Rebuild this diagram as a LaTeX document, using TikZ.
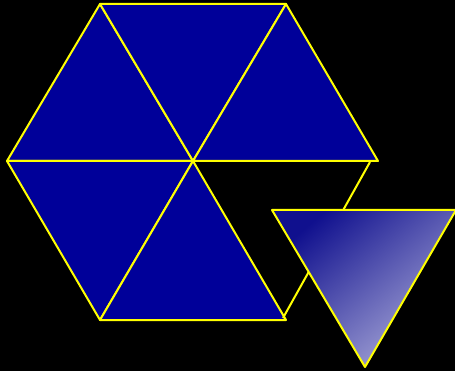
\documentclass[tikz,border=0pt]{standalone}
\usepackage{xcolor}
\definecolor{hxblue}{HTML}{000099}
\definecolor{hxyellow}{HTML}{FFFF00}
\definecolor{hxdark}{HTML}{10108E}
\definecolor{hxlight}{HTML}{A8A8D8}
\usepackage{tikz}
\usetikzlibrary{calc}

\begin{document}
\begin{tikzpicture}[
  x=1pt, y=-1pt,
  tri/.style={fill=hxblue, draw=hxyellow, line width=2pt, line join=round},
  edge/.style={draw=hxyellow, line width=2pt},
  moved/.style={draw=hxyellow, line width=2pt, line join=round,
                top color=hxdark, bottom color=hxlight, shading angle=40}
]
\fill[black] (0,0) rectangle (455,371);
\useasboundingbox (0,0) rectangle (455,371);

% hexagon corners
\coordinate (c)  at (193,161);
\coordinate (l)  at (7,161);
\coordinate (tl) at (100,4);
\coordinate (tr) at (286,4);
\coordinate (r)  at (378,161);
\coordinate (br) at (286,320);
\coordinate (bl) at (100,320);

% five triangles, the lower right one is gone
\draw[tri] (c) -- (l) -- (tl) -- cycle;
\draw[tri] (c) -- (tl) -- (tr) -- cycle;
\draw[tri] (c) -- (tr) -- (r) -- cycle;
\draw[tri] (c) -- (l) -- (bl) -- cycle;
\draw[tri] (c) -- (bl) -- (br) -- cycle;

% outer side of the empty place
\coordinate (gapt) at (370,162);
\coordinate (gapb) at (283,318);
\draw[edge] (gapt) -- (gapb);

% the triangle that moved out
\coordinate (mtl) at (272,210);
\coordinate (mtr) at (456,210);
\coordinate (mb)  at (365,367);
\draw[moved] (mtl) -- (mtr) -- (mb) -- cycle;
\end{tikzpicture}
\end{document}
